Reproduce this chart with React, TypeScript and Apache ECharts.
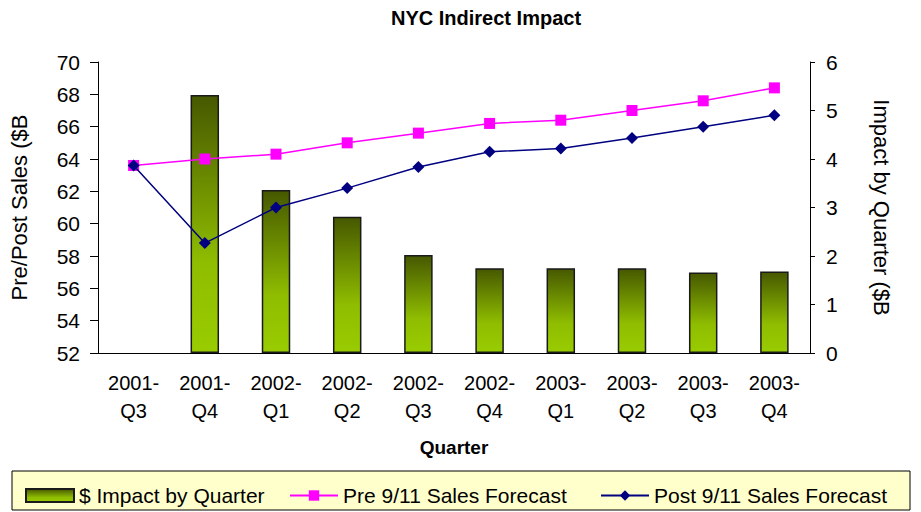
import React, { useEffect, useRef } from "react";
import * as echarts from "echarts";

const categories = [
  "2001-\nQ3", "2001-\nQ4", "2002-\nQ1", "2002-\nQ2", "2002-\nQ3",
  "2002-\nQ4", "2003-\nQ1", "2003-\nQ2", "2003-\nQ3", "2003-\nQ4",
];
const impactByQuarter = [null, 5.32, 3.36, 2.81, 2.02, 1.75, 1.75, 1.75, 1.66, 1.68];
const preForecast = [63.6, 64.0, 64.3, 65.0, 65.6, 66.2, 66.4, 67.0, 67.6, 68.4];
const postForecast = [63.6, 58.8, 61.0, 62.2, 63.5, 64.45, 64.65, 65.3, 66.0, 66.7];

const FONT = "Liberation Sans, Arial, sans-serif";

export default function App() {
  const ref = useRef<HTMLDivElement>(null);
  useEffect(() => {
    if (!ref.current) return;
    const chart = echarts.init(ref.current, null, { renderer: "svg" });
    const barGrad = new echarts.graphic.LinearGradient(0, 0, 0, 1, [
      { offset: 0, color: "#465800" },
      { offset: 0.65, color: "#8fbd00" },
      { offset: 1, color: "#99cc00" },
    ]);
    const legendText = { fontFamily: FONT, fontSize: 21, color: "#000" };
    const legendCommon = {
      top: 480,
      itemWidth: 48,
      itemHeight: 13,
      itemGap: 5,
      textStyle: legendText,
    };
    chart.setOption({
      animation: false,
      backgroundColor: "#ffffff",
      textStyle: { fontFamily: FONT },
      title: {
        text: "NYC Indirect Impact",
        left: 386,
        top: 3,
        textStyle: { fontFamily: FONT, fontSize: 20, fontWeight: "bold", color: "#000" },
      },
      graphic: [
        {
          type: "rect",
          shape: { x: 12, y: 471, width: 898, height: 39 },
          style: { fill: "#ffffcc", stroke: "#000", lineWidth: 1 },
          z: -1,
        },
      ],
      legend: [
        { ...legendCommon, left: 20, data: [{ name: "$ Impact by Quarter", icon: "rect" }] },
        { ...legendCommon, left: 284, data: [{ name: "Pre 9/11 Sales Forecast" }] },
        { ...legendCommon, left: 595, data: [{ name: "Post 9/11 Sales Forecast" }] },
      ],
      grid: { left: 97, right: 111, top: 62, bottom: 159 },
      xAxis: {
        type: "category",
        data: categories,
        axisLine: { lineStyle: { color: "#000", width: 1 } },
        axisTick: { show: false },
        axisLabel: { fontFamily: FONT, fontSize: 20, color: "#000", lineHeight: 28, margin: 16 },
        name: "Quarter",
        nameLocation: "middle",
        nameGap: 85,
        nameTextStyle: { fontFamily: FONT, fontSize: 19, fontWeight: "bold", color: "#000" },
      },
      yAxis: [
        {
          type: "value",
          min: 52,
          max: 70,
          interval: 2,
          position: "left",
          axisLine: { show: true, lineStyle: { color: "#000" } },
          axisTick: { show: true, length: 8, lineStyle: { color: "#000" } },
          splitLine: { show: false },
          axisLabel: { fontFamily: FONT, fontSize: 21, color: "#000", margin: 18 },
          name: "Pre/Post Sales ($B",
          nameLocation: "middle",
          nameRotate: 90,
          nameGap: 68,
          nameTextStyle: { fontFamily: FONT, fontSize: 22, color: "#000" },
        },
        {
          type: "value",
          min: 0,
          max: 6,
          interval: 1,
          position: "right",
          axisLine: { show: true, lineStyle: { color: "#000" } },
          axisTick: { show: true, length: 5, lineStyle: { color: "#000" } },
          splitLine: { show: false },
          axisLabel: { fontFamily: FONT, fontSize: 21, color: "#000", margin: 16 },
          name: "Impact by Quarter ($B",
          nameLocation: "middle",
          nameRotate: -90,
          nameGap: 60,
          nameTextStyle: { fontFamily: FONT, fontSize: 22, color: "#000" },
        },
      ],
      series: [
        {
          name: "$ Impact by Quarter",
          type: "bar",
          yAxisIndex: 1,
          data: impactByQuarter,
          barWidth: "40%",
          itemStyle: { color: barGrad, borderColor: "#1a1a1a", borderWidth: 1.5 },
          z: 1,
        },
        {
          name: "Pre 9/11 Sales Forecast",
          type: "line",
          yAxisIndex: 0,
          data: preForecast,
          symbol: "rect",
          symbolSize: 11,
          lineStyle: { color: "#ff00ff", width: 1.5 },
          itemStyle: { color: "#ff00ff" },
          z: 3,
        },
        {
          name: "Post 9/11 Sales Forecast",
          type: "line",
          yAxisIndex: 0,
          data: postForecast,
          symbol: "diamond",
          symbolSize: 12,
          lineStyle: { color: "#000080", width: 1.5 },
          itemStyle: { color: "#000080" },
          z: 4,
        },
      ],
    });
    return () => chart.dispose();
  }, []);
  return <div ref={ref} style={{ width: 921, height: 512, position: "absolute", left: 0, top: 0 }} />;
}
